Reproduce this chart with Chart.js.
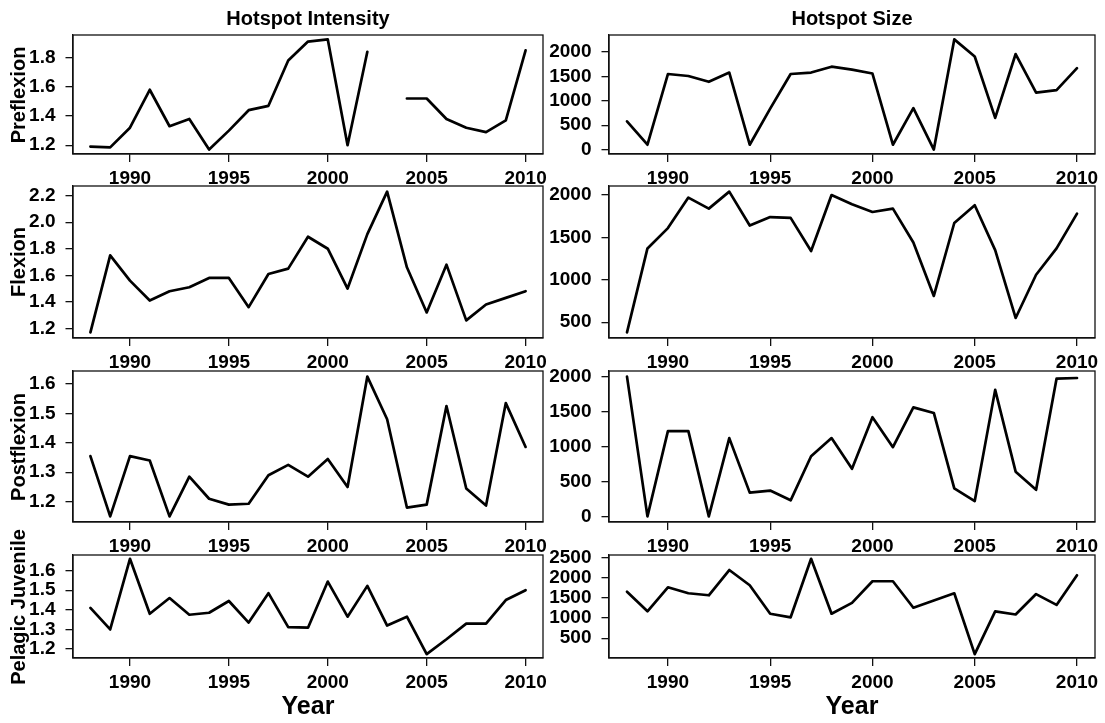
<!DOCTYPE html>
<html>
<head>
<meta charset="utf-8">
<script src="https://cdn.jsdelivr.net/npm/chart.js@4.4.1/dist/chart.umd.min.js"></script>
<style>
  html, body { margin: 0; padding: 0; background: #fff; }
  #wrap { position: relative; width: 1105px; height: 723px; overflow: hidden;
          font-family: "Liberation Sans", Arial, sans-serif; font-weight: bold; color: #000; }
  #wrap canvas { position: absolute; }
  .lbl { position: absolute; white-space: nowrap; line-height: 1; transform: translate(-50%, -50%); }
  .rot { transform: translate(-50%, -50%) rotate(-90deg); }
</style>
</head>
<body>
<div id="wrap"></div>
<script>
// Survey years shared by every panel
const years = [1988, 1989, 1990, 1991, 1992, 1993, 1994, 1995, 1996, 1997, 1998, 1999,
               2000, 2001, 2002, 2003, 2004, 2005, 2006, 2007, 2008, 2009, 2010];
const yearTicks = [1990, 1995, 2000, 2005, 2010];

// Preflexion (no estimate for 2003)
const preIntensity = [1.19, 1.185, 1.32, 1.58, 1.33, 1.38, 1.17, 1.30, 1.44, 1.47, 1.78, 1.91,
                      1.925, 1.20, 1.84, null, 1.52, 1.52, 1.38, 1.32, 1.29, 1.37, 1.85];
const preSize = [580, 100, 1550, 1510, 1390, 1580, 100, 840, 1550, 1580, 1700, 1640,
                 1560, 100, 850, 0, 2260, 1910, 650, 1960, 1170, 1220, 1670];

// Flexion
const flexIntensity = [1.17, 1.75, 1.56, 1.41, 1.48, 1.51, 1.58, 1.58, 1.36, 1.61, 1.65, 1.89,
                       1.80, 1.50, 1.91, 2.23, 1.66, 1.32, 1.68, 1.26, 1.38, 1.43, 1.48];
const flexSize = [380, 1370, 1610, 1970, 1840, 2040, 1640, 1740, 1730, 1340, 2000, 1890,
                  1800, 1840, 1440, 810, 1670, 1880, 1350, 550, 1060, 1370, 1780];

// Postflexion
const postIntensity = [1.355, 1.15, 1.355, 1.34, 1.15, 1.285, 1.21, 1.19, 1.193, 1.29, 1.325, 1.285,
                       1.345, 1.25, 1.625, 1.48, 1.18, 1.19, 1.525, 1.245, 1.187, 1.535, 1.386];
const postSize = [2000, 0, 1220, 1220, 0, 1120, 340, 370, 230, 860, 1120, 680,
                  1420, 990, 1560, 1480, 400, 220, 1810, 640, 380, 1970, 1980];

// Pelagic juvenile
const juvIntensity = [1.41, 1.30, 1.66, 1.38, 1.46, 1.375, 1.385, 1.445, 1.335, 1.485, 1.312, 1.309,
                      1.544, 1.365, 1.522, 1.32, 1.365, 1.174, 1.25, 1.33, 1.33, 1.45, 1.50];
const juvSize = [1660, 1170, 1770, 1620, 1570, 2200, 1820, 1110, 1020, 2480, 1110, 1380,
                 1920, 1920, 1260, 1440, 1620, 100, 1170, 1090, 1600, 1330, 2070];

// Y tick values per panel
const preIntTicks = [1.2, 1.4, 1.6, 1.8];
const preSizeTicks = [0, 500, 1000, 1500, 2000];
const flexIntTicks = [1.2, 1.4, 1.6, 1.8, 2.0, 2.2];
const flexSizeTicks = [500, 1000, 1500, 2000];
const postIntTicks = [1.2, 1.3, 1.4, 1.5, 1.6];
const postSizeTicks = [0, 500, 1000, 1500, 2000];
const juvIntTicks = [1.2, 1.3, 1.4, 1.5, 1.6];
const juvSizeTicks = [500, 1000, 1500, 2000, 2500];

const columnTitles = ['Hotspot Intensity', 'Hotspot Size'];
const stageNames = ['Preflexion', 'Flexion', 'Postflexion', 'Pelagic Juvenile'];
const xTitle = 'Year';

// ---- layout ----
const FONT = '"Liberation Sans", Arial, sans-serif';
const PAD_TOP = 10;      // space above each frame inside its canvas
const XAXIS_H = 40;      // room below each frame for ticks + year labels
const COLS = [
  { canvasX: 0,   canvasW: 560, axisW: 73, padRight: 17, center: 308 },
  { canvasX: 540, canvasW: 565, axisW: 69, padRight: 10, center: 852 }
];
const ROWS = [
  { top: 35,  bottom: 154 },
  { top: 186, bottom: 338 },
  { top: 371, bottom: 522 },
  { top: 555, bottom: 658 }
];

const fmt1 = v => v.toFixed(1);
const fmt0 = v => String(v);

const panels = [
  { row: 0, col: 0, values: preIntensity,  ticks: preIntTicks,  fmt: fmt1 },
  { row: 0, col: 1, values: preSize,       ticks: preSizeTicks, fmt: fmt0 },
  { row: 1, col: 0, values: flexIntensity, ticks: flexIntTicks, fmt: fmt1 },
  { row: 1, col: 1, values: flexSize,      ticks: flexSizeTicks, fmt: fmt0 },
  { row: 2, col: 0, values: postIntensity, ticks: postIntTicks, fmt: fmt1 },
  { row: 2, col: 1, values: postSize,      ticks: postSizeTicks, fmt: fmt0 },
  { row: 3, col: 0, values: juvIntensity,  ticks: juvIntTicks,  fmt: fmt1 },
  { row: 3, col: 1, values: juvSize,       ticks: juvSizeTicks, fmt: fmt0 }
];

// axis limits padded by 4% of the data range on each side
function paddedRange(vals) {
  const v = vals.filter(x => x !== null);
  const lo = Math.min(...v), hi = Math.max(...v);
  const pad = (hi - lo) * 0.04;
  return [lo - pad, hi + pad];
}

// closed frame around the plotting region
const framePlugin = {
  id: 'frame',
  afterDatasetsDraw(chart) {
    const { ctx, chartArea: a } = chart;
    ctx.save();
    ctx.strokeStyle = '#111';
    ctx.lineWidth = 1.3;
    ctx.strokeRect(a.left, a.top, a.right - a.left, a.bottom - a.top);
    ctx.restore();
  }
};

Chart.defaults.font.family = FONT;
Chart.defaults.font.size = 19;
Chart.defaults.font.weight = 'bold';
Chart.defaults.color = '#000';

const wrap = document.getElementById('wrap');

function addLabel(text, cx, cy, size, rotated) {
  const d = document.createElement('div');
  d.className = 'lbl' + (rotated ? ' rot' : '');
  d.textContent = text;
  d.style.left = cx + 'px';
  d.style.top = cy + 'px';
  d.style.fontSize = size + 'px';
  wrap.appendChild(d);
}

function makePanel(p) {
  const col = COLS[p.col], row = ROWS[p.row];
  const cv = document.createElement('canvas');
  const cw = col.canvasW;
  const ch = row.bottom - row.top + PAD_TOP + XAXIS_H;
  cv.width = cw; cv.height = ch;
  cv.style.width = cw + 'px'; cv.style.height = ch + 'px';
  cv.style.left = col.canvasX + 'px';
  cv.style.top = (row.top - PAD_TOP) + 'px';
  wrap.appendChild(cv);

  const [xmin, xmax] = paddedRange(years);
  const [ymin, ymax] = paddedRange(p.values);
  const gridCfg = (len) => ({ drawOnChartArea: false, drawTicks: true, tickLength: len, color: '#111', lineWidth: 1.3 });

  new Chart(cv, {
    type: 'line',
    data: {
      datasets: [{
        data: years.map((yr, i) => ({ x: yr, y: p.values[i] })),
        borderColor: '#000',
        borderWidth: 2.7,
        pointRadius: 0,
        tension: 0,
        spanGaps: false,
        fill: false,
        borderJoinStyle: 'round',
        borderCapStyle: 'round'
      }]
    },
    options: {
      responsive: false,
      animation: false,
      devicePixelRatio: 1,
      layout: { padding: { top: PAD_TOP, right: col.padRight, left: 0, bottom: 0 } },
      plugins: { legend: { display: false }, tooltip: { enabled: false } },
      scales: {
        x: {
          type: 'linear', min: xmin, max: xmax,
          afterBuildTicks: s => { s.ticks = yearTicks.map(v => ({ value: v })); },
          afterFit: s => { s.height = XAXIS_H; s.paddingLeft = 0; s.paddingRight = 0; },
          ticks: { autoSkip: false, maxRotation: 0, padding: 5, color: '#000', callback: v => String(v) },
          grid: gridCfg(8),
          border: { display: true, color: '#111', width: 1.3 }
        },
        y: {
          type: 'linear', min: ymin, max: ymax,
          afterBuildTicks: s => { s.ticks = p.ticks.map(v => ({ value: v })); },
          afterFit: s => { s.width = col.axisW; s.paddingTop = 0; s.paddingBottom = 0; },
          ticks: { autoSkip: false, padding: 10, color: '#000', callback: v => p.fmt(v) },
          grid: gridCfg(7.5),
          border: { display: true, color: '#111', width: 1.3 }
        }
      }
    },
    plugins: [framePlugin]
  });
}

panels.forEach(makePanel);

// column headings, stage names and year titles
columnTitles.forEach((t, i) => addLabel(t, COLS[i].center, 18, 20, false));
stageNames.forEach((t, r) => addLabel(t, 18, (ROWS[r].top + ROWS[r].bottom) / 2, 20, true));
COLS.forEach(c => addLabel(xTitle, c.center, 705, 25, false));
</script>
</body>
</html>
